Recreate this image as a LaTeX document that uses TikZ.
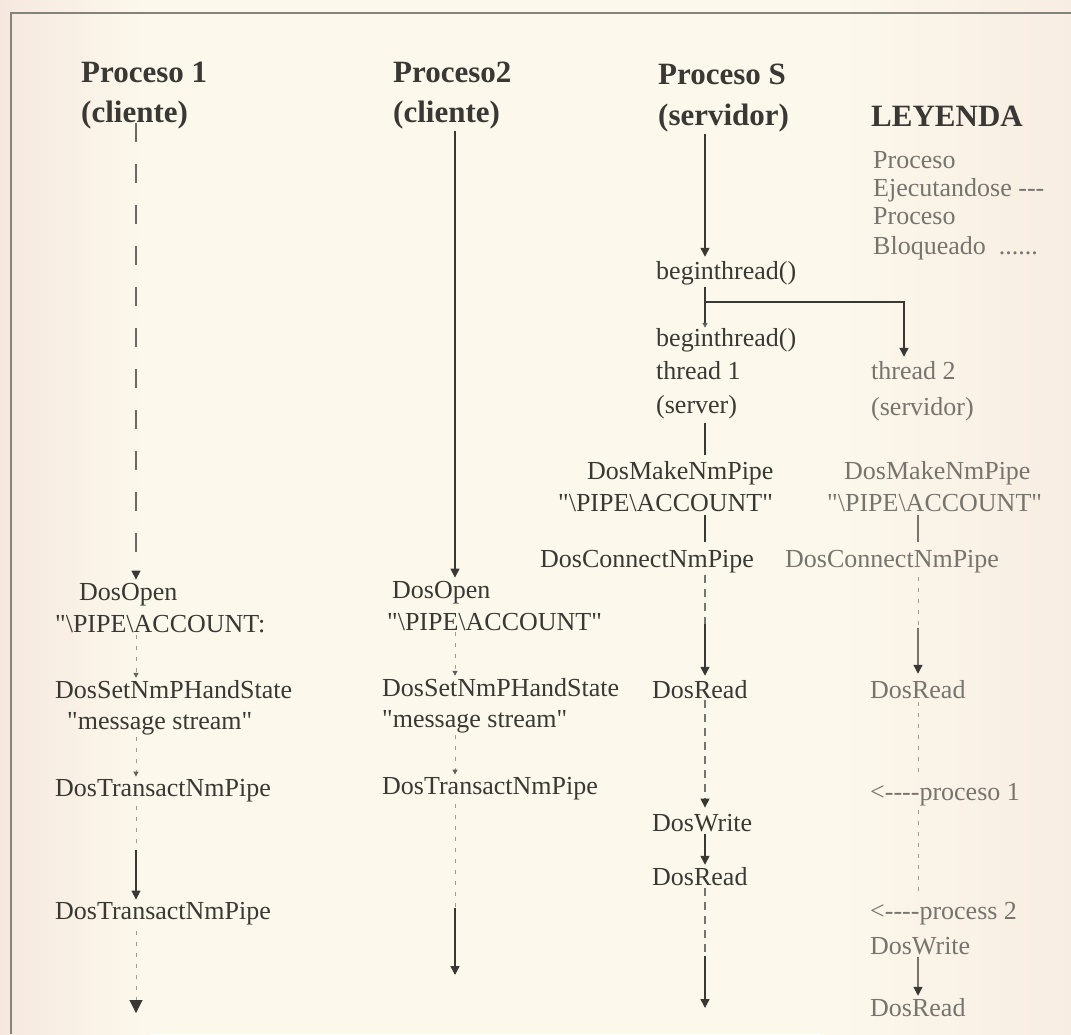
\documentclass[tikz,border=0pt]{standalone}
\usepackage{fontspec}
\setmainfont{Liberation Serif}[Ligatures=TeXOff]
\usetikzlibrary{arrows.meta,calc}
\definecolor{paper}{HTML}{FCF9EC}
\definecolor{paperpink}{HTML}{F6E8DE}
\definecolor{ink}{HTML}{3A3834}
\definecolor{inkl}{HTML}{77746E}
\definecolor{framec}{HTML}{85817B}
\newcommand\pipe{\textbackslash PIPE\textbackslash ACCOUNT}
\begin{document}
\begin{tikzpicture}[x=1pt,y=-1pt,
  lbl/.style={anchor=base west,inner sep=0pt,font=\fontsize{26}{30}\selectfont,text=ink},
  lblg/.style={lbl,text=inkl},
  head/.style={anchor=base west,inner sep=0pt,font=\fontsize{31}{34}\selectfont\bfseries,text=ink},
  run/.style={draw=ink,line width=1.4pt},
  runl/.style={draw=inkl,line width=1.3pt},
  longdash/.style={draw=ink!75,line width=1.3pt,dash pattern=on 19pt off 22pt},
  shortdash/.style={draw=ink!70,line width=1.2pt,dash pattern=on 8pt off 6pt},
  dots/.style={draw=ink!50,line width=1pt,dash pattern=on 4pt off 7pt},
  tip/.style={-{Triangle[length=9pt,width=9pt,color=ink]}},
  smalltip/.style={-{Triangle[length=5pt,width=5pt,color=ink!80]}},
  bigtip/.style={-{Triangle[length=13pt,width=13pt,color=ink]}},
]
\useasboundingbox (0,0) rectangle (1071,1034);
% paper
\fill[paper] (0,0) rectangle (1071,1034);
\shade[left color=paperpink,right color=paper] (0,0) rectangle (150,1034);
\shade[left color=paper,right color=paperpink!70!paper] (820,0) rectangle (1071,1034);
% frame
\draw[framec,line width=2pt] (10,13) -- (1071,13);
\draw[framec,line width=2.6pt] (11,13) -- (11,1034);

% column positions
\coordinate (c1) at (136,0);
\coordinate (c2) at (455,0);
\coordinate (c3) at (705,0);
\coordinate (c4) at (918,0);
\coordinate (bx) at (904,0);

% headings
\node[head] (h1a) at (81,82) {Proceso 1};
\node[head] (h1b) at (81,122) {(cliente)};
\node[head] (h2a) at (393,82) {Proceso2};
\node[head] (h2b) at (393,122) {(cliente)};
\node[head] (h3a) at (658,84) {Proceso S};
\node[head] (h3b) at (658,125) {(servidor)};

% legend
\node[head] (leg) at (871,126) {LEYENDA};
\node[lblg] (lg1) at (873,168) {Proceso};
\node[lblg] (lg2) at (873,196) {Ejecutandose ---};
\node[lblg] (lg3) at (873,224) {Proceso};
\node[lblg] (lg4) at (873,254) {Bloqueado\ \ ......};

% client 1
\node[lbl] (p1open) at (79,600) {DosOpen};
\node[lbl] (p1arg) at (55,632) {"\pipe:};
\node[lbl] (p1set) at (55,698) {DosSetNmPHandState};
\node[lbl] (p1msg) at (67,729) {"message stream"};
\node[lbl] (p1tr) at (55,796) {DosTransactNmPipe};
\node[lbl] (p1tr2) at (55,919) {DosTransactNmPipe};

% client 2
\node[lbl] (p2open) at (392,598) {DosOpen};
\node[lbl] (p2arg) at (387,630) {"\pipe"};
\node[lbl] (p2set) at (382,696) {DosSetNmPHandState};
\node[lbl] (p2msg) at (382,727) {"message stream"};
\node[lbl] (p2tr) at (382,794) {DosTransactNmPipe};

% server, thread 1
\node[lbl] (s1) at (656,279) {beginthread()};
\node[lbl] (s2) at (656,346) {beginthread()};
\node[lbl] (s3) at (656,379) {thread 1};
\node[lbl] (s4) at (656,413) {(server)};
\node[lbl] (s5) at (587,479) {DosMakeNmPipe};
\node[lbl] (s6) at (558,511) {"\pipe"};
\node[lbl] (s7) at (540,567) {DosConnectNmPipe};
\node[lbl] (s8) at (652,698) {DosRead};
\node[lbl] (s9) at (652,831) {DosWrite};
\node[lbl] (s10) at (652,885) {DosRead};

% server, thread 2
\node[lblg] (t1) at (871,379) {thread 2};
\node[lblg] (t2) at (871,415) {(servidor)};
\node[lblg] (t3) at (844,479) {DosMakeNmPipe};
\node[lblg] (t4) at (827,511) {"\pipe"};
\node[lblg] (t5) at (785,567) {DosConnectNmPipe};
\node[lblg] (t6) at (870,698) {DosRead};
\node[lblg] (t7) at (870,800) {<----proceso 1};
\node[lblg] (t8) at (870,919) {<----process 2};
\node[lblg] (t9) at (870,954) {DosWrite};
\node[lblg] (t10) at (870,1016) {DosRead};

% transition points and free ends
\coordinate (k1) at (136,850);
\coordinate (e1) at (136,1013);
\coordinate (k2) at (455,908);
\coordinate (e2) at (455,975);
\coordinate (br) at (705,302);
\coordinate (k3) at (705,624);
\coordinate (k4) at (705,956);
\coordinate (e3) at (705,1008);
\coordinate (k5) at (918,628);

% client 1 line
\draw[longdash,tip,shorten <=-6pt,shorten >=3pt] (h1b.south -| c1) -- (p1open.north -| c1);
\draw[dots,smalltip,shorten <=2pt,shorten >=2pt] (p1arg.south -| c1) -- (p1set.north -| c1);
\draw[dots,smalltip,shorten <=2pt,shorten >=2pt] (p1msg.south -| c1) -- (p1tr.north -| c1);
\draw[dots,shorten <=4pt] (p1tr.south -| c1) -- (k1);
\draw[run,tip,shorten >=2pt] (k1) -- (p1tr2.north -| c1);
\draw[dots,bigtip,shorten <=6pt] (p1tr2.south -| c1) -- (e1);

% client 2 line
\draw[run,tip,shorten <=2pt,shorten >=3pt] (h2b.south -| c2) -- (p2open.north -| c2);
\draw[dots,smalltip,shorten <=2pt,shorten >=2pt] (p2arg.south -| c2) -- (p2set.north -| c2);
\draw[dots,smalltip,shorten <=2pt,shorten >=2pt] (p2msg.south -| c2) -- (p2tr.north -| c2);
\draw[dots,shorten <=4pt] (p2tr.south -| c2) -- (k2);
\draw[run,tip] (k2) -- (e2);

% server thread 1 line
\draw[run,tip,shorten <=2pt,shorten >=4pt] (h3b.south -| c3) -- (s1.north -| c3);
\draw[run,smalltip,shorten <=2pt,shorten >=0pt] (s1.south -| c3) -- (s2.north -| c3);
\draw[run,tip,shorten >=4pt] (br) -| (t1.north -| bx);
\draw[run,shorten <=4pt,shorten >=6pt] (s4.south -| c3) -- (s5.north -| c3);
\draw[run,shorten <=4pt,shorten >=8pt] (s6.south -| c3) -- (s7.north -| c3);
\draw[shortdash,shorten <=2pt] (s7.south -| c3) -- (k3);
\draw[run,tip,shorten >=4pt] (k3) -- (s8.north -| c3);
\draw[shortdash,tip,shorten <=2pt,shorten >=6pt] (s8.south -| c3) -- (s9.north -| c3);
\draw[run,tip,shorten <=2pt,shorten >=2pt] (s9.south -| c3) -- (s10.north -| c3);
\draw[shortdash,shorten <=3pt] (s10.south -| c3) -- (k4);
\draw[run,tip] (k4) -- (e3);

% server thread 2 line
\draw[runl,shorten <=4pt,shorten >=8pt] (t4.south -| c4) -- (t5.north -| c4);
\draw[dots,shorten <=4pt] (t5.south -| c4) -- (k5);
\draw[runl,tip,shorten >=6pt] (k5) -- (t6.north -| c4);
\draw[dots,shorten <=4pt,shorten >=4pt] (t6.south -| c4) -- (t7.north -| c4);
\draw[dots,shorten <=4pt,shorten >=4pt] (t7.south -| c4) -- (t8.north -| c4);
\draw[runl,tip,shorten <=2pt,shorten >=2pt] (t9.south -| c4) -- (t10.north -| c4);
\end{tikzpicture}
\end{document}
